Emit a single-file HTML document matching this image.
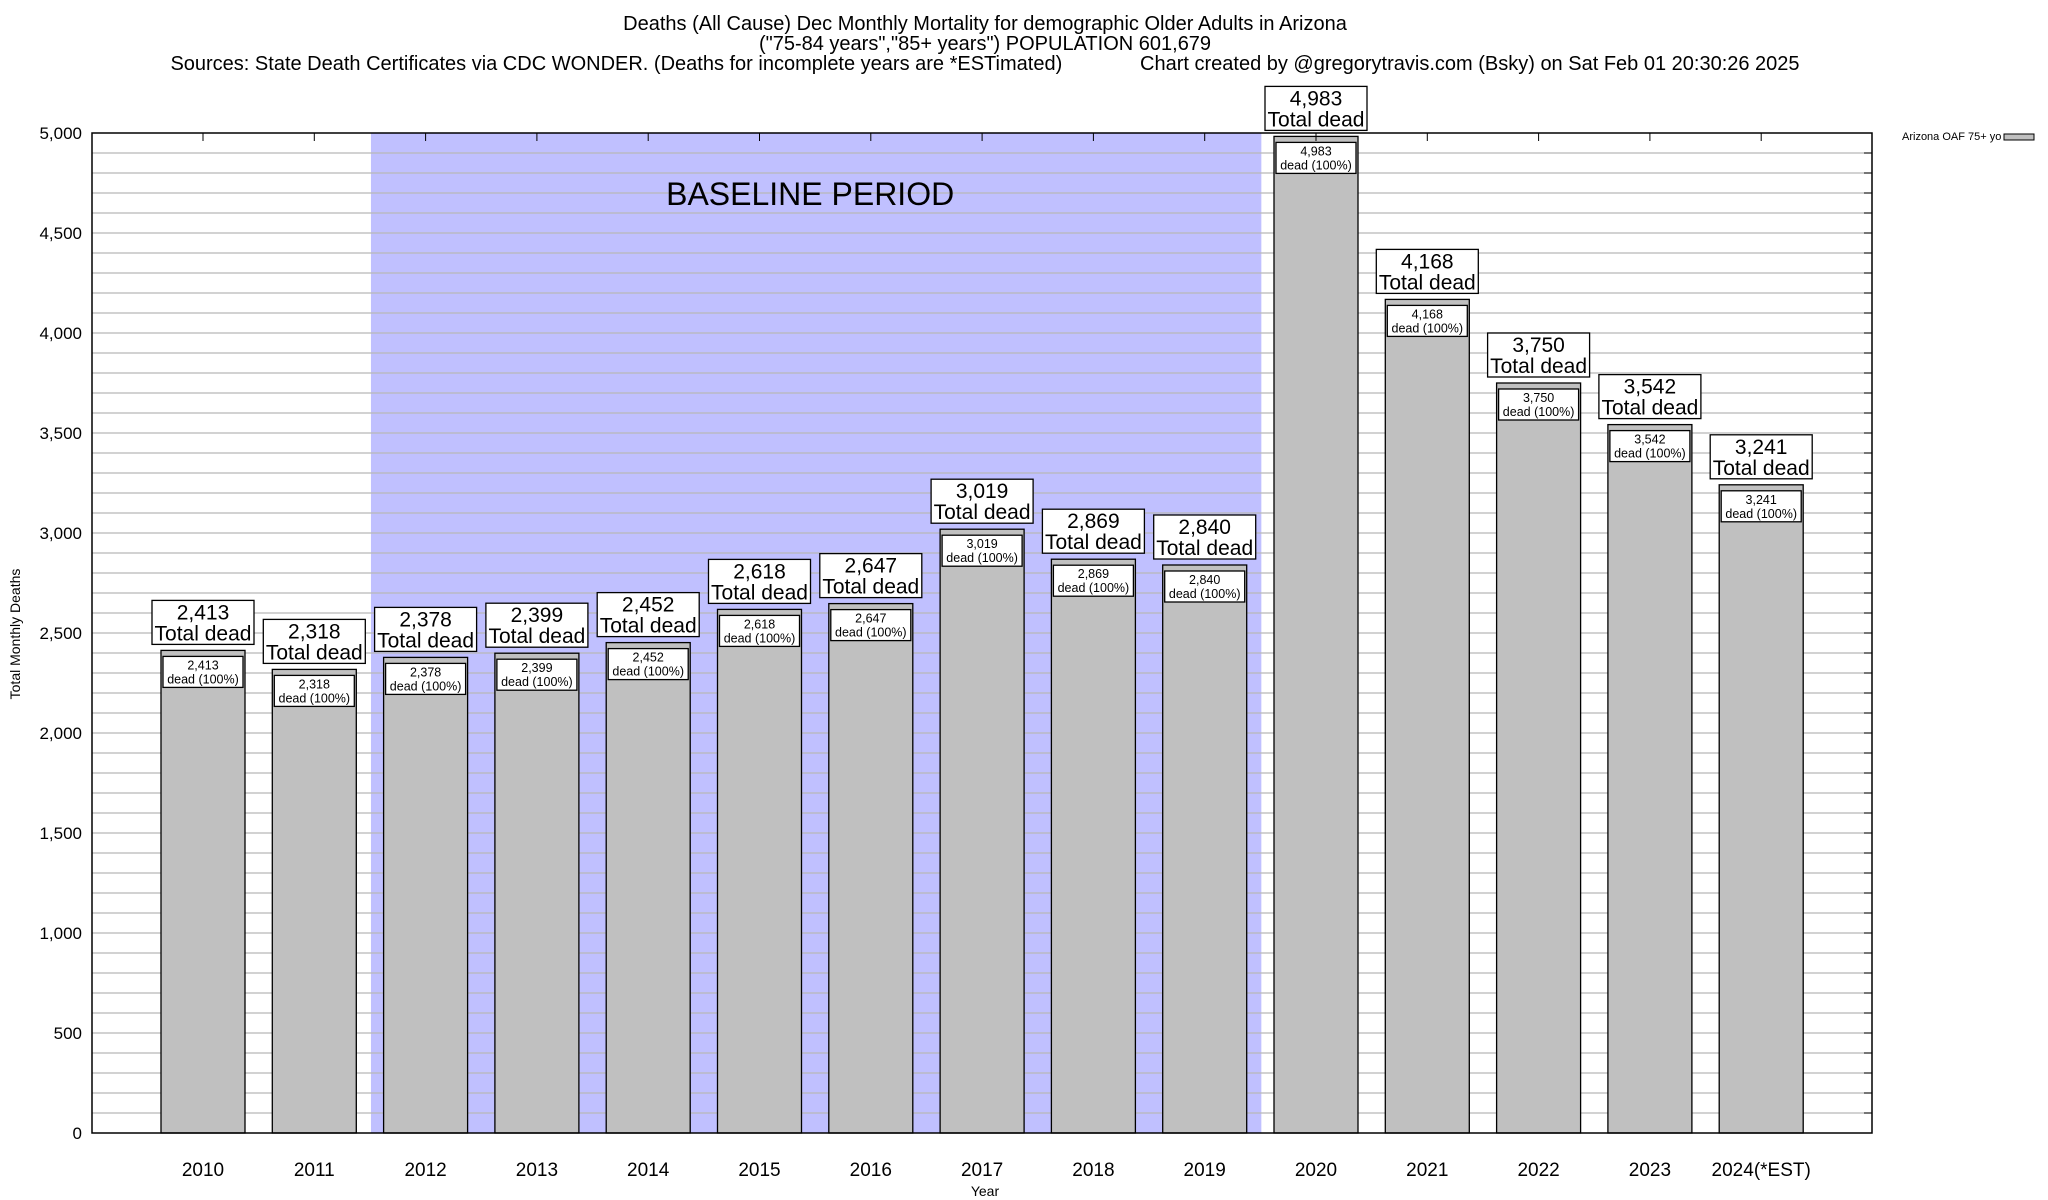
<!DOCTYPE html>
<html><head><meta charset="utf-8"><style>
html,body{margin:0;padding:0;background:#fff;}
svg{display:block;font-family:"Liberation Sans",sans-serif;}
</style></head><body>
<svg id="chart" width="2048" height="1200" viewBox="0 0 2048 1200" xmlns="http://www.w3.org/2000/svg">
<g font-size="20" text-anchor="middle" fill="#000">
<text x="985" y="30">Deaths (All Cause) Dec Monthly Mortality for demographic Older Adults in Arizona</text>
<text x="985" y="50">("75-84 years","85+ years") POPULATION 601,679</text>
<text x="985" y="70" xml:space="preserve">Sources: State Death Certificates via CDC WONDER. (Deaths for incomplete years are *ESTimated)              Chart created by @gregorytravis.com (Bsky) on Sat Feb 01 20:30:26 2025</text>
</g>
<g id="plot"></g>
<text x="20" y="634" font-size="14" text-anchor="middle" transform="rotate(-90 20 634)">Total Monthly Deaths</text>
<text x="985" y="1196" font-size="14" text-anchor="middle">Year</text>
<g>
<text x="1902" y="140" font-size="11">Arizona OAF 75+ yo</text>
<rect x="2004" y="134" width="30" height="6" fill="#c0c0c0" stroke="#000" stroke-width="1"/>
</g>
</svg>
<script>
const categories = ["2010","2011","2012","2013","2014","2015","2016","2017","2018","2019","2020","2021","2022","2023","2024(*EST)"];
const deaths = [2413,2318,2378,2399,2452,2618,2647,3019,2869,2840,4983,4168,3750,3542,3241];
const yTicks = [0,500,1000,1500,2000,2500,3000,3500,4000,4500,5000];
const baselineStart = 2, baselineEnd = 9;

const NS = "http://www.w3.org/2000/svg";
const L = 92, R = 1872, T = 133, B = 1133, YMAX = 5000;
const x0 = 203, step = 111.3, bw = 84;
const xC = i => x0 + i * step;
const yS = v => B - (v / YMAX) * (B - T);
const fmt = v => v.toLocaleString("en-US");
const plot = document.getElementById("plot");
function mk(tag, attrs, parent) {
  const e = document.createElementNS(NS, tag);
  for (const k in attrs) e.setAttribute(k, attrs[k]);
  (parent || plot).appendChild(e);
  return e;
}
const shade = mk("rect", {x: xC(baselineStart) - step/2 + 1, y: T, width: (baselineEnd - baselineStart + 1) * step, height: B - T, fill: "#c0c0ff"});


for (let v = 100; v < YMAX; v += 100) {
  const g = mk("line", {x1: L, x2: R, y1: yS(v), y2: yS(v), stroke: "#b8b8b8", "stroke-width": 1.3});
  
  
  const tk = mk("line", {x1: R - 8, x2: R, y1: yS(v), y2: yS(v), stroke: "#000", "stroke-width": 1});
  
  
}
const bt = mk("text", {x: (xC(baselineStart) + xC(baselineEnd)) / 2 - 5, y: 205, "font-size": 32, "text-anchor": "middle"});
bt.textContent = "BASELINE PERIOD";


yTicks.forEach(v => {
  const t = mk("text", {x: L - 10, y: yS(v) + 6, "font-size": 17, "text-anchor": "end"});
  t.textContent = fmt(v);
  
  
});
deaths.forEach((v, i) => {
  const cx = xC(i), top = yS(v);
  const bar = mk("rect", {x: cx - bw/2, y: top, width: bw, height: B - top, fill: "#c0c0c0", stroke: "#000", "stroke-width": 1.3});
  
  
  const ib = mk("rect", {x: cx - bw/2 + 2, y: top + 6, width: bw - 4, height: 31, fill: "#fff", stroke: "#000", "stroke-width": 1.3});
  
  
  const it1 = mk("text", {x: cx, y: top + 19, "font-size": 12.5, "text-anchor": "middle"});
  it1.textContent = fmt(v);
  
  
  const it2 = mk("text", {x: cx, y: top + 33, "font-size": 12.5, "text-anchor": "middle"});
  it2.textContent = "dead (100%)";
  
  
  const ob = mk("rect", {x: cx - 51, y: top - 50, width: 102, height: 44, fill: "#fff", stroke: "#000", "stroke-width": 1.3});
  
  
  const o1 = mk("text", {x: cx, y: top - 31, "font-size": 21, "text-anchor": "middle"});
  o1.textContent = fmt(v);
  
  
  const o2 = mk("text", {x: cx, y: top - 10, "font-size": 21, "text-anchor": "middle"});
  o2.textContent = "Total dead";
  
  
  const tk = mk("line", {x1: cx, x2: cx, y1: T, y2: T + 8, stroke: "#000", "stroke-width": 1});
  
  
  const xl = mk("text", {x: cx, y: 1176, "font-size": 19, "text-anchor": "middle"});
  xl.textContent = categories[i];
  
  
});
const frame = mk("rect", {x: L, y: T, width: R - L, height: B - T, fill: "none", stroke: "#000", "stroke-width": 1.5});


</script>
</body></html>
